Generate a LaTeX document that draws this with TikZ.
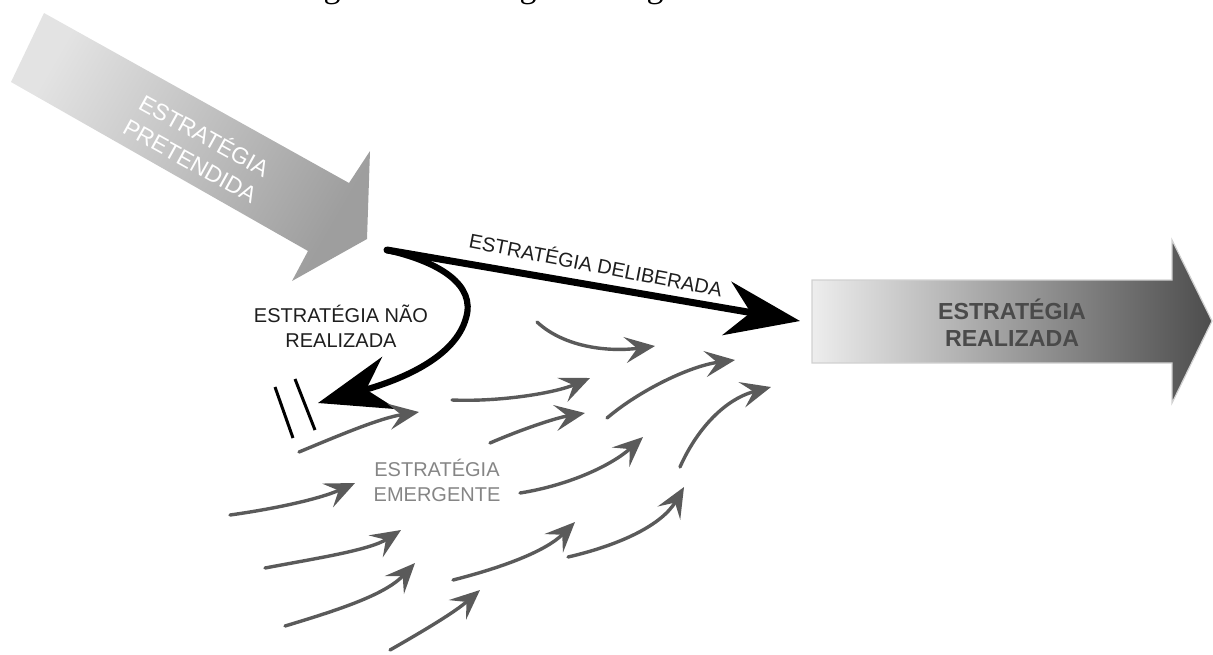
\documentclass[tikz,border=0pt]{standalone}
\usepackage{fontspec}
\setmainfont{Liberation Sans}
\newfontfamily\captionserif{Liberation Serif}
\usetikzlibrary{arrows.meta}
\definecolor{emerg}{HTML}{5A5A5A}
\definecolor{emergtext}{HTML}{858585}
\definecolor{inkdark}{HTML}{1E1E1E}
\definecolor{realtext}{HTML}{4A4A4A}
\begin{document}
\begin{tikzpicture}[x=0.5pt,y=-0.5pt,
  emergent/.style={draw=emerg, line width=1.7pt, line cap=round,
    -{Stealth[length=15pt,width=13pt,inset=6pt]}},
  blackflow/.style={draw=black, line cap=round,
    -{Stealth[length=37pt,width=27pt,inset=12pt]}},
  flowlabel/.style={text=inkdark, font=\fontsize{10}{12.5}\selectfont,
    align=center, inner sep=0pt},
]
\useasboundingbox (0,0) rectangle (1213,654);

% descenders of the caption line above the figure
\begin{scope}
  \clip (0,0) rectangle (1213,654);
  \foreach \gx/\gn in {332/ga,528/gb,655/gc}
    \node[anchor=base, inner sep=0pt, font=\captionserif\fontsize{17}{17}\selectfont]
      (\gn) at (\gx,-3) {g};
\end{scope}

% intended strategy: big diagonal arrow
\shade[top color=black!11, bottom color=black!38, shading angle=60]
  (44,13) -- (349,183) -- (370,151) -- (367,239) -- (292,281)
  -- (308,251) -- (11,82) -- cycle;
\node[rotate=-29, text=white, align=center, inner sep=0pt,
      font=\fontsize{11.5}{14.5}\selectfont] (planned) at (198,147)
  {ESTRATÉGIA\\PRETENDIDA};

% realized strategy: big horizontal arrow
\shade[left color=black!7, middle color=black!27, right color=black!70,
       draw=black!18, line width=0.6pt]
  (812,280) -- (1172,280) -- (1172,240) -- (1212,321) -- (1172,403)
  -- (1172,363) -- (812,363) -- cycle;
\node[text=realtext, align=center, inner sep=0pt,
      font=\bfseries\fontsize{11.6}{13.5}\selectfont] (realized) at (1012,323)
  {ESTRATÉGIA\\REALIZADA};

% deliberate and unrealized strategies
\coordinate (split) at (387,250);
\coordinate (realin) at (800,321);
\coordinate (dropped) at (318,403);
\draw[blackflow, line width=3.5pt] (split) -- (realin);
\draw[blackflow, line width=3.1pt] (split)
  .. controls (440,262) and (476,285) .. (466,318)
  .. controls (455,358) and (400,380) .. (dropped);
\node[flowlabel, rotate=-11] (deliberate) at (596,264) {ESTRATÉGIA DELIBERADA};
\node[flowlabel] (unrealized) at (341,326) {ESTRATÉGIA NÃO\\REALIZADA};

% break marks
\draw[line width=1.5pt] (275,387) -- (293,438);
\draw[line width=1.5pt] (295,379) -- (315,430);

% emergent strategy: field of small arrows
\foreach \ax/\ay/\bx/\by/\cx/\cy/\dx/\dy in {
  537/322/565/348/610/352/655/346,
  452/400/500/402/555/393/590/378,
  299/452/340/435/380/418/419/412,
  490/443/520/430/555/418/585/413,
  607/418/640/390/690/366/735/360,
  680/467/695/433/722/400/771/387,
  230/515/280/508/322/498/355/483,
  520/493/570/485/612/465/643/437,
  265/568/318/558/370/550/401/530,
  453/580/500/568/545/552/575/522,
  568/557/620/545/662/525/684/487,
  285/626/338/610/385/595/415/563,
  390/650/425/630/455/612/480/590}
  \draw[emergent] (\ax,\ay) .. controls (\bx,\by) and (\cx,\cy) .. (\dx,\dy);
\node[text=emergtext, align=center, inner sep=0pt,
      font=\fontsize{10}{12.5}\selectfont] (emergent) at (437,480)
  {ESTRATÉGIA\\EMERGENTE};
\end{tikzpicture}
\end{document}
